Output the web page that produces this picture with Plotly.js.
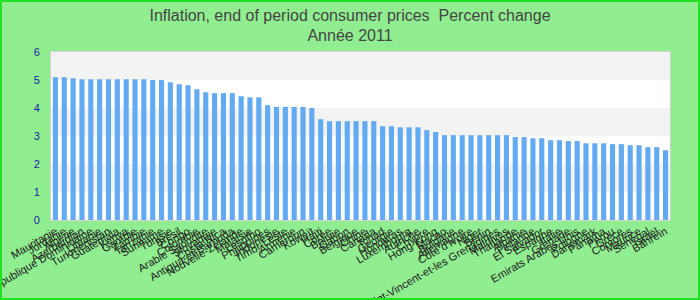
<!DOCTYPE html>
<html><head><meta charset="utf-8">
<script src="https://cdn.plot.ly/plotly-3.0.1.min.js"></script>
<style>html,body{margin:0;padding:0;background:#90ee90;}#chart{width:700px;height:300px;box-sizing:border-box;border:2px solid #22e022;}</style>
</head><body><div id="chart"></div>
<script>
var countries = ["Mauritanie","Jordanie","Algérie","Azerbaïdjan","République Dominicaine","Lituanie","Turkménistan","Guatemala","Kenya","Gambie","Zambie","Tanzanie","Suriname","Tunisie","Brésil","Congo","Colombie","Arabie Saoudite","Slovaquie","Costa Rica","Antigua-et-Barbuda","Nouvelle-Zélande","Malaisie","Lesotho","Philippines","Indonésie","Timor-Leste","Arménie","Cameroun","Koweït","Haïti","Corée","Bolivie","Gabon","Belgique","Chine","Canada","Tchad","Géorgie","Honduras","Luxembourg","Autriche","Chypre","Hong Kong","Macao","Bulgarie","Allemagne","Côte d'Ivoire","Niger","Bénin","Saint-Vincent-et-les Grenadines","Maldives","Thaïlande","Albanie","Finlande","El Salvador","Espagne","Italie","Grenade","Emirats Arabes Unis","Pologne","Danemark","Panama","Pérou","Grèce","Comores","Maurice","Sénégal","Israël","Bahreïn"];
var inflation = [5.1,5.1,5.06,5.03,5.03,5.03,5.03,5.03,5.03,5.03,5.03,5.0,5.0,4.92,4.85,4.81,4.67,4.56,4.53,4.53,4.53,4.42,4.38,4.38,4.1,4.04,4.04,4.04,4.04,4.0,3.6,3.53,3.53,3.53,3.53,3.53,3.53,3.35,3.35,3.31,3.31,3.31,3.21,3.14,3.03,3.03,3.03,3.03,3.03,3.03,3.03,3.03,2.96,2.96,2.92,2.92,2.85,2.85,2.82,2.82,2.74,2.74,2.74,2.71,2.71,2.67,2.67,2.6,2.6,2.49];
var yTicks = [0,1,2,3,4,5,6];
var bands = [[1,2],[3,4],[5,6]];

var shapes = bands.map(function(b){return {type:'rect',xref:'paper',yref:'y',x0:0,x1:1,y0:b[0],y1:b[1],fillcolor:'#f3f3f3',line:{width:0},layer:'below'};});

Plotly.newPlot('chart',[{
  type:'bar', x:countries, y:inflation,
  marker:{color:'#62aaf2'}
}],{
  width:696, height:296,
  paper_bgcolor:'#90ee90', plot_bgcolor:'#ffffff',
  margin:{l:49,r:28,t:50,b:78},
  bargap:0.42,
  font:{family:'Liberation Sans, Arial, sans-serif'},
  title:{text:'Inflation, end of period consumer prices  Percent change<br>Année 2011', x:0.5, xanchor:'center', yref:'container', y:0.937, yanchor:'middle', font:{size:16,color:'#444444'}},
  xaxis:{tickmode:'array', tickvals:countries, ticktext:countries, tickangle:-30, tickfont:{size:11,color:'#222222'}, showline:true, linecolor:'#d0d0d0', mirror:true, ticks:'', automargin:false},
  yaxis:{range:[0,6], tickvals:yTicks, tickfont:{size:11,color:'#1a1aa0'}, ticklabelstandoff:8, showgrid:false, zeroline:false, showline:true, linecolor:'#d0d0d0', mirror:true, automargin:false},
  shapes:shapes,
  showlegend:false
},{displayModeBar:false});
</script></body></html>
